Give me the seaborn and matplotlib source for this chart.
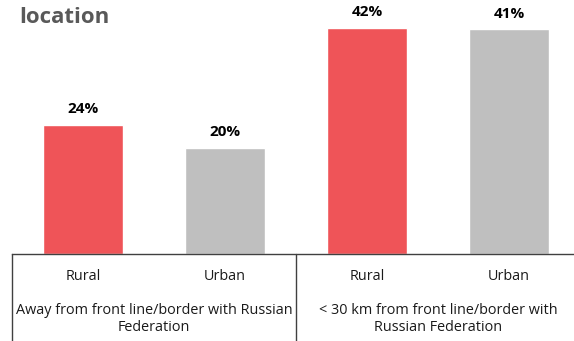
import matplotlib
matplotlib.use("Agg")
import matplotlib.pyplot as plt
import seaborn as sns
import pandas as pd

# Data
groups = ["Away from front line/border with Russian\nFederation",
          "< 30 km from front line/border with\nRussian Federation"]
settlement = ["Rural", "Urban", "Rural", "Urban"]
group_of_bar = [0, 0, 1, 1]
values = [23.8, 19.6, 41.7, 41.4]
value_labels = ["24%", "20%", "42%", "41%"]
title_text = "location"

sns.set_theme(style="white")
plt.rcParams['font.family'] = ['Open Sans', 'DejaVu Sans']

W, H = 574, 341
fig = plt.figure(figsize=(W / 100, H / 100), dpi=100)
base_y = 254
ax = fig.add_axes([12 / W, (H - base_y) / H, 568 / W, base_y / H])

df = pd.DataFrame({
    "bar": [f"{g}-{s}" for g, s in zip(group_of_bar, settlement)],
    "value": values,
    "type": settlement,
})
palette = {"Rural": "#EF5458", "Urban": "#BFBFBF"}
sns.barplot(data=df, x="bar", y="value", hue="type", palette=palette,
            width=0.565, dodge=False, legend=False, ax=ax, saturation=1)

ax.set_xlim(-0.5, 3.5)
ax.set_ylim(0, 254 / 5.43)
for s in ["top", "right", "left"]:
    ax.spines[s].set_visible(False)
ax.spines["bottom"].set_color("#404040")
ax.spines["bottom"].set_linewidth(1.0)
ax.set_yticks([])
ax.set_xticks([])
ax.set_xlabel("")
ax.set_ylabel("")

# value labels
for i, (v, lab) in enumerate(zip(values, value_labels)):
    ax.annotate(lab, (i, v), xytext=(0, 6), textcoords="offset points",
                ha="center", va="bottom", fontsize=11, fontweight="bold",
                color="#000000")

# category labels
trans = ax.get_xaxis_transform()
px = 1 / base_y
for i, s in enumerate(settlement):
    ax.text(i, -22 * px, s, transform=trans, ha="center", va="center",
            fontsize=10.4, color="#1a1a1a")
for gi, g in enumerate(groups):
    ax.text(gi * 2 + 0.5, -65 * px, g, transform=trans, ha="center",
            va="center", fontsize=10.4, color="#1a1a1a", linespacing=1.22)

# separators
for xs in [-0.5, 1.5]:
    ax.plot([xs, xs], [0, -90 * px], transform=trans, color="#404040",
            lw=1.0, clip_on=False)

fig.text(19 / W, 1 - 17.5 / H, title_text, ha="left", va="center",
         fontsize=16, fontweight="bold", color="#595959")

fig.savefig("out.png", dpi=100)
